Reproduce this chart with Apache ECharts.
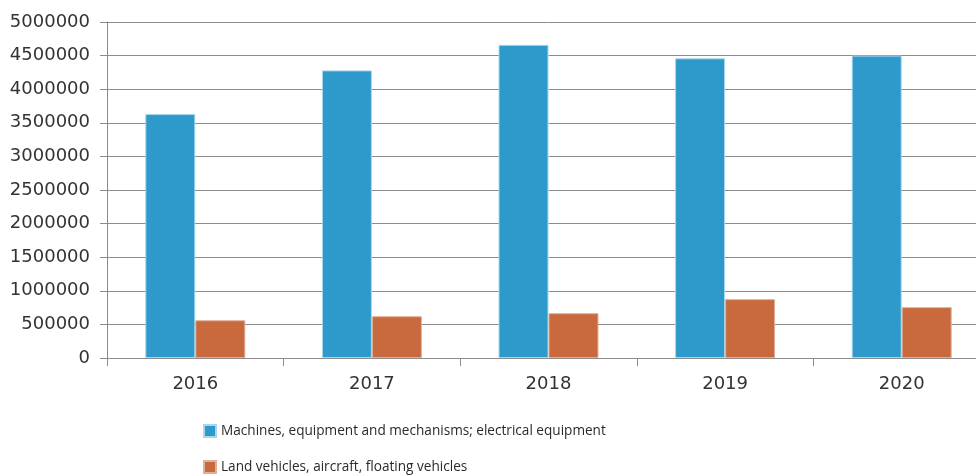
<!DOCTYPE html>
<html><head><meta charset="utf-8">
<script src="https://cdn.jsdelivr.net/npm/echarts@6/dist/echarts.min.js"></script>
<style>html,body{margin:0;padding:0;background:#fff;overflow:hidden}#c{width:990px;height:476px}</style>
</head><body><div id="c"></div>
<script>
const categories = ['2016','2017','2018','2019','2020'];
const machines = [3630000, 4280000, 4660000, 4460000, 4500000];
const vehicles = [562000, 622000, 667000, 876000, 757000];
const seriesNames = ['Machines, equipment and mechanisms; electrical equipment', 'Land vehicles, aircraft, floating vehicles'];
const yMin = 0, yMax = 5000000, yStep = 500000;

const chart = echarts.init(document.getElementById('c'), null, {renderer:'canvas'});
const legendText = {fontFamily:'Open Sans', fontSize:13.6, color:'#2a2a2a'};
chart.setOption({
  animation:false,
  backgroundColor:'#fff',
  grid:{left:107, top:22, right:0, bottom:118},
  legend:[
    {left:203, top:424, padding:0, itemWidth:12, itemHeight:12, icon:'rect', textStyle:legendText, data:[seriesNames[0]]},
    {left:203, top:460, padding:0, itemWidth:12, itemHeight:12, icon:'rect', textStyle:legendText, data:[seriesNames[1]]}
  ],
  xAxis:{
    type:'category', data:categories,
    axisLine:{lineStyle:{color:'#8c8c8c'}},
    axisTick:{show:true, length:8, lineStyle:{color:'#8c8c8c'}},
    axisLabel:{margin:17, fontFamily:'DejaVu Sans', fontSize:18, color:'#333'}
  },
  yAxis:{
    type:'value', min:yMin, max:yMax, interval:yStep,
    axisLine:{show:true, lineStyle:{color:'#8c8c8c'}},
    axisTick:{show:true, length:7, lineStyle:{color:'#8c8c8c'}},
    splitLine:{lineStyle:{color:'#8c8c8c'}},
    axisLabel:{margin:17, fontFamily:'DejaVu Sans', fontSize:18, color:'#333', formatter:v=>String(v)}
  },
  series:[
    {name:seriesNames[0], type:'bar', data:machines, barWidth:50, barGap:'0%',
     itemStyle:{color:'#2E9ACB', borderColor:'#a9d6ec', borderWidth:1}},
    {name:seriesNames[1], type:'bar', data:vehicles, barWidth:50, barGap:'0%',
     itemStyle:{color:'#C86A3E', borderColor:'#e0b09a', borderWidth:1}}
  ]
});
</script></body></html>
